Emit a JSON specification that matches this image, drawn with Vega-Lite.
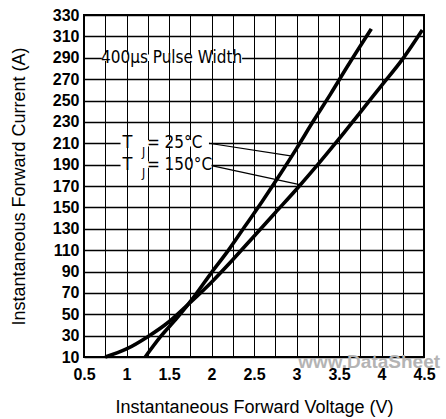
{
  "$schema": "https://vega.github.io/schema/vega-lite/v6.json",
  "width": 340,
  "height": 342,
  "autosize": {"type": "none"},
  "padding": {"left": 84, "top": 15, "right": 22, "bottom": 62},
  "background": "white",
  "config": {
    "view": {"stroke": "black", "strokeWidth": 2},
    "font": "Liberation Sans",
    "axis": {"gridColor": "black", "gridOpacity": 1, "domain": false, "ticks": false, "labelColor": "black", "titleColor": "black", "labelFont": "Liberation Sans", "labelFontWeight": "bold", "titleFont": "Liberation Sans", "titleFontWeight": "normal", "labelOverlap": false}
  },
  "datasets": {
    "curves": [
      {"V": 1.22, "I": 10, "s": "25"}, {"V": 1.4, "I": 29, "s": "25"}, {"V": 1.6, "I": 47, "s": "25"}, {"V": 1.8, "I": 67, "s": "25"}, {"V": 2.0, "I": 89, "s": "25"}, {"V": 2.2, "I": 110, "s": "25"}, {"V": 2.4, "I": 133, "s": "25"}, {"V": 2.6, "I": 156, "s": "25"}, {"V": 2.8, "I": 180, "s": "25"}, {"V": 3.0, "I": 205, "s": "25"}, {"V": 3.2, "I": 231, "s": "25"}, {"V": 3.4, "I": 256, "s": "25"}, {"V": 3.6, "I": 282, "s": "25"}, {"V": 3.88, "I": 317, "s": "25"},
      {"V": 0.75, "I": 10, "s": "150"}, {"V": 1.0, "I": 17.5, "s": "150"}, {"V": 1.25, "I": 29, "s": "150"}, {"V": 1.5, "I": 43, "s": "150"}, {"V": 1.75, "I": 61, "s": "150"}, {"V": 2.0, "I": 80, "s": "150"}, {"V": 2.25, "I": 101, "s": "150"}, {"V": 2.5, "I": 123, "s": "150"}, {"V": 2.75, "I": 145, "s": "150"}, {"V": 3.0, "I": 167, "s": "150"}, {"V": 3.25, "I": 190, "s": "150"}, {"V": 3.5, "I": 214, "s": "150"}, {"V": 3.75, "I": 239, "s": "150"}, {"V": 4.0, "I": 264, "s": "150"}, {"V": 4.25, "I": 289, "s": "150"}, {"V": 4.48, "I": 316, "s": "150"}
    ],
    "leaders": [
      {"x": 1.97, "y": 210, "x2": 2.95, "y2": 198},
      {"x": 2.0, "y": 189, "x2": 3.05, "y2": 171}
    ],
    "masks": [
      {"x": 0.71, "x2": 2.36, "y": 287, "y2": 293},
      {"x": 0.93, "x2": 1.97, "y": 207, "y2": 213},
      {"x": 0.93, "x2": 2.0, "y": 187, "y2": 193}
    ],
    "bigtext": [
      {"x": 0.7, "y": 290, "t": "400µs Pulse Width"},
      {"x": 1.24, "y": 210, "t": "= 25°C"},
      {"x": 1.24, "y": 190, "t": "= 150°C"}
    ],
    "ttext": [
      {"x": 1.01, "y": 210, "t": "T"},
      {"x": 1.01, "y": 190, "t": "T"}
    ],
    "jtext": [
      {"x": 1.2, "y": 202, "t": "J"},
      {"x": 1.2, "y": 182, "t": "J"}
    ],
    "wm": [
      {"x": 3.02, "y": 5.5, "t": "www.DataSheet"}
    ]
  },
  "layer": [
    {
      "data": {"name": "curves"},
      "mark": {"type": "line", "color": "black", "strokeWidth": 3.6, "interpolate": "monotone"},
      "encoding": {
        "x": {"field": "V", "type": "quantitative", "scale": {"domain": [0.5, 4.5], "nice": false, "zero": false},
          "axis": {"values": [0.5, 0.75, 1, 1.25, 1.5, 1.75, 2, 2.25, 2.5, 2.75, 3, 3.25, 3.5, 3.75, 4, 4.25, 4.5],
            "tickCount": 40,
            "labelExpr": "datum.value % 0.5 == 0 ? format(datum.value, '~g') : ''",
            "gridWidth": 1,
            "labelFontSize": 16, "labelPadding": 9, "labelFlush": false,
            "title": "Instantaneous Forward Voltage (V)", "titleFontSize": 18, "titlePadding": 16}},
        "y": {"field": "I", "type": "quantitative", "scale": {"domain": [10, 330], "nice": false, "zero": false},
          "axis": {"values": [10, 30, 50, 70, 90, 110, 130, 150, 170, 190, 210, 230, 250, 270, 290, 310, 330],
            "tickCount": 40,
            "gridWidth": 1.5,
            "labelFontSize": 16, "labelPadding": 5, "labelFlush": false,
            "title": "Instantaneous Forward Current (A)", "titleFontSize": 18, "titlePadding": 24}},
        "detail": {"field": "s"}
      }
    },
    {
      "data": {"name": "leaders"},
      "mark": {"type": "rule", "color": "black", "strokeWidth": 1.2},
      "encoding": {
        "x": {"field": "x", "type": "quantitative"},
        "y": {"field": "y", "type": "quantitative"},
        "x2": {"field": "x2"},
        "y2": {"field": "y2"}
      }
    },
    {
      "data": {"name": "masks"},
      "mark": {"type": "rect", "color": "white"},
      "encoding": {
        "x": {"field": "x", "type": "quantitative"},
        "x2": {"field": "x2"},
        "y": {"field": "y", "type": "quantitative"},
        "y2": {"field": "y2"}
      }
    },
    {
      "data": {"name": "bigtext"},
      "mark": {"type": "text", "align": "left", "baseline": "middle", "fontSize": 17, "color": "black", "font": "Liberation Sans Narrow, DejaVu Sans Condensed, sans-serif"},
      "encoding": {
        "x": {"field": "x", "type": "quantitative"},
        "y": {"field": "y", "type": "quantitative"},
        "text": {"field": "t"}
      }
    },
    {
      "data": {"name": "ttext"},
      "mark": {"type": "text", "align": "center", "baseline": "middle", "fontSize": 18, "color": "black", "font": "Liberation Sans Narrow, DejaVu Sans Condensed, sans-serif"},
      "encoding": {
        "x": {"field": "x", "type": "quantitative"},
        "y": {"field": "y", "type": "quantitative"},
        "text": {"field": "t"}
      }
    },
    {
      "data": {"name": "jtext"},
      "mark": {"type": "text", "align": "center", "baseline": "middle", "fontSize": 12, "color": "black", "font": "Liberation Sans Narrow, DejaVu Sans Condensed, sans-serif"},
      "encoding": {
        "x": {"field": "x", "type": "quantitative"},
        "y": {"field": "y", "type": "quantitative"},
        "text": {"field": "t"}
      }
    },
    {
      "data": {"name": "wm"},
      "mark": {"type": "text", "align": "left", "baseline": "middle", "fontSize": 19, "fontWeight": "bold", "color": "#b4b4b4", "font": "Liberation Sans"},
      "encoding": {
        "x": {"field": "x", "type": "quantitative"},
        "y": {"field": "y", "type": "quantitative"},
        "text": {"field": "t"}
      }
    }
  ]
}
